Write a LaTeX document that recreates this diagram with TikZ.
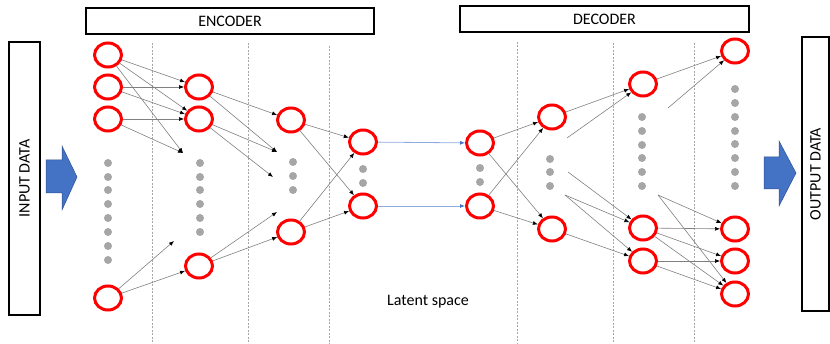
\documentclass[tikz,border=0pt]{standalone}
\usepackage{fontspec}
\setmainfont{Carlito}
\usepackage{tikz}
\usetikzlibrary{arrows.meta}
\usetikzlibrary{shapes.geometric}
\usepackage{xcolor}
\definecolor{nodered}{RGB}{255,0,0}
\definecolor{dotgray}{RGB}{166,166,166}
\definecolor{arrowblue}{RGB}{68,114,196}
\definecolor{arrowedge}{RGB}{47,82,143}
\definecolor{linkblue}{RGB}{143,170,220}
\tikzset{
    neuron/.style={
        draw=nodered,
        ellipse,
        line width=3pt,
        minimum width=27pt,
        minimum height=24pt,
        inner sep=0pt
    },
    link/.style={
        draw=gray,
        -{Latex[length=5pt, width=4pt, black]},
        line width=0.6pt
    },
    latentlink/.style={
        draw=linkblue,
        -{Latex[length=5pt, width=4pt, arrowblue]},
        line width=0.8pt
    },
    layerline/.style={
        draw=gray!70,
        dash pattern=on 2pt off 1.5pt,
        line width=0.6pt
    },
    titlebox/.style={
        draw,
        line width=1.1pt,
        inner sep=0pt,
        font=\fontsize{16}{19}\selectfont
    },
    bigarrow/.style={
        fill=arrowblue,
        draw=arrowedge,
        line width=0.5pt
    }
}

\begin{document}
\begin{tikzpicture}[x=1pt, y=-1pt]
  \useasboundingbox (0,0) rectangle (830,344);

  % Titles and data boxes
  \node[titlebox, minimum width=288pt, minimum height=26pt] (enc) at (230,21) {ENCODER};
  \node[titlebox, minimum width=289pt, minimum height=26pt] (dec) at (604.5,19) {DECODER};
  \node[titlebox, rotate=90, minimum width=273pt, minimum height=31pt] (indata) at (24.5,178.5) {INPUT DATA};
  \node[titlebox, rotate=90, minimum width=274pt, minimum height=27pt] (outdata) at (815.5,174) {OUTPUT DATA};

  % Block arrows
  \draw[bigarrow] (46,160) -- (62,160) -- (62,146) -- (77,177) -- (62,210) -- (62,193) -- (46,193) -- cycle;
  \draw[bigarrow] (764,157) -- (779,157) -- (779,141) -- (796,173) -- (779,206) -- (779,189) -- (764,189) -- cycle;

  % Layer separators
  \draw[layerline] (152,43) -- (152,344);
  \draw[layerline] (248,43) -- (248,344);
  \draw[layerline] (329,46) -- (329,344);
  \draw[layerline] (517,42) -- (517,344);
  \draw[layerline] (613,43) -- (613,344);
  \draw[layerline] (694,43) -- (694,344);

  % Dots
  \foreach \y in {163,177,190,204,218,232,246,260} \fill[dotgray] (108,\y) circle (4pt);
  \foreach \y in {163,177,190,204,218,232} \fill[dotgray] (200,\y) circle (4pt);
  \foreach \y in {162,176,190} \fill[dotgray] (293,\y) circle (4pt);
  \foreach \y in {169,183} \fill[dotgray] (363,\y) circle (4pt);
  \foreach \y in {168,182} \fill[dotgray] (480,\y) circle (4pt);
  \foreach \y in {159,172,186} \fill[dotgray] (550,\y) circle (4pt);
  \foreach \y in {117,131,145,158,172,186} \fill[dotgray] (642,\y) circle (4pt);
  \foreach \y in {89,103,117,131,144,158,172,186} \fill[dotgray] (735,\y) circle (4pt);

  % Encoder neurons
  \node[neuron] (a1) at (108,55) {};
  \node[neuron] (a2) at (108,87) {};
  \node[neuron] (a3) at (108,119) {};
  \node[neuron] (a4) at (108,298) {};
  \node[neuron] (b1) at (199,87) {};
  \node[neuron] (b2) at (199,119) {};
  \node[neuron] (b3) at (199,266) {};
  \node[neuron] (c1) at (291,120) {};
  \node[neuron] (c2) at (291,232) {};
  \node[neuron] (d1) at (363,142) {};
  \node[neuron] (d2) at (363,206) {};

  % Decoder neurons
  \node[neuron] (e1) at (480,143) {};
  \node[neuron] (e2) at (480,206) {};
  \node[neuron] (f1) at (552,117) {};
  \node[neuron] (f2) at (552,229) {};
  \node[neuron] (g1) at (643,84) {};
  \node[neuron] (g2) at (643,228) {};
  \node[neuron] (g3) at (643,261) {};
  \node[neuron] (h1) at (735,51) {};
  \node[neuron] (h2) at (735,229) {};
  \node[neuron] (h3) at (735,261) {};
  \node[neuron] (h4) at (735,294) {};

  % Loose ends
  \coordinate (p1) at (183,153);
  \coordinate (p2) at (174,241);
  \coordinate (p3) at (277,152);
  \coordinate (p4) at (273,177);
  \coordinate (p5) at (277,212);
  \coordinate (q1) at (567,138);
  \coordinate (q2) at (568,172);
  \coordinate (q3) at (565,195);
  \coordinate (q4) at (668,108);
  \coordinate (q5) at (658,195);

  % Encoder edges
  \draw[link] (a1) -- (b1);
  \draw[link] (a1) -- (b2);
  \draw[link] (a1) -- (p1);
  \draw[link] (a2) -- (b1);
  \draw[link] (a2) -- (b2);
  \draw[link] (a3) -- (b2);
  \draw[link] (a3) -- (p1);
  \draw[link] (a4) -- (p2);
  \draw[link] (a4) -- (b3);
  \draw[link] (b1) -- (c1);
  \draw[link] (b1) -- (p3);
  \draw[link] (b2) -- (p3);
  \draw[link] (b2) -- (p4);
  \draw[link] (b3) -- (p5);
  \draw[link] (b3) -- (c2);
  \draw[link] (c1) -- (d1);
  \draw[link] (c1) -- (d2);
  \draw[link] (c2) -- (d1);
  \draw[link] (c2) -- (d2);

  % Latent links
  \draw[latentlink] (d1) -- (e1);
  \draw[latentlink] (d2) -- (e2);

  % Decoder edges
  \draw[link] (e1) -- (f1);
  \draw[link] (e1) -- (f2);
  \draw[link] (e2) -- (f1);
  \draw[link] (e2) -- (f2);
  \draw[link] (f1) -- (g1);
  \draw[link] (q1) -- (g1);
  \draw[link] (q2) -- (g2);
  \draw[link] (q3) -- (g2);
  \draw[link] (q3) -- (g3);
  \draw[link] (f2) -- (g3);
  \draw[link] (g1) -- (h1);
  \draw[link] (q4) -- (h1);
  \draw[link] (q5) -- (h2);
  \draw[link] (q5) -- (h4);
  \draw[link] (g2) -- (h2);
  \draw[link] (g2) -- (h3);
  \draw[link] (g2) -- (h4);
  \draw[link] (g3) -- (h3);
  \draw[link] (g3) -- (h4);

  \node[font=\fontsize{16}{19}\selectfont] (latent) at (428,302) {Latent space};
\end{tikzpicture}
\end{document}
